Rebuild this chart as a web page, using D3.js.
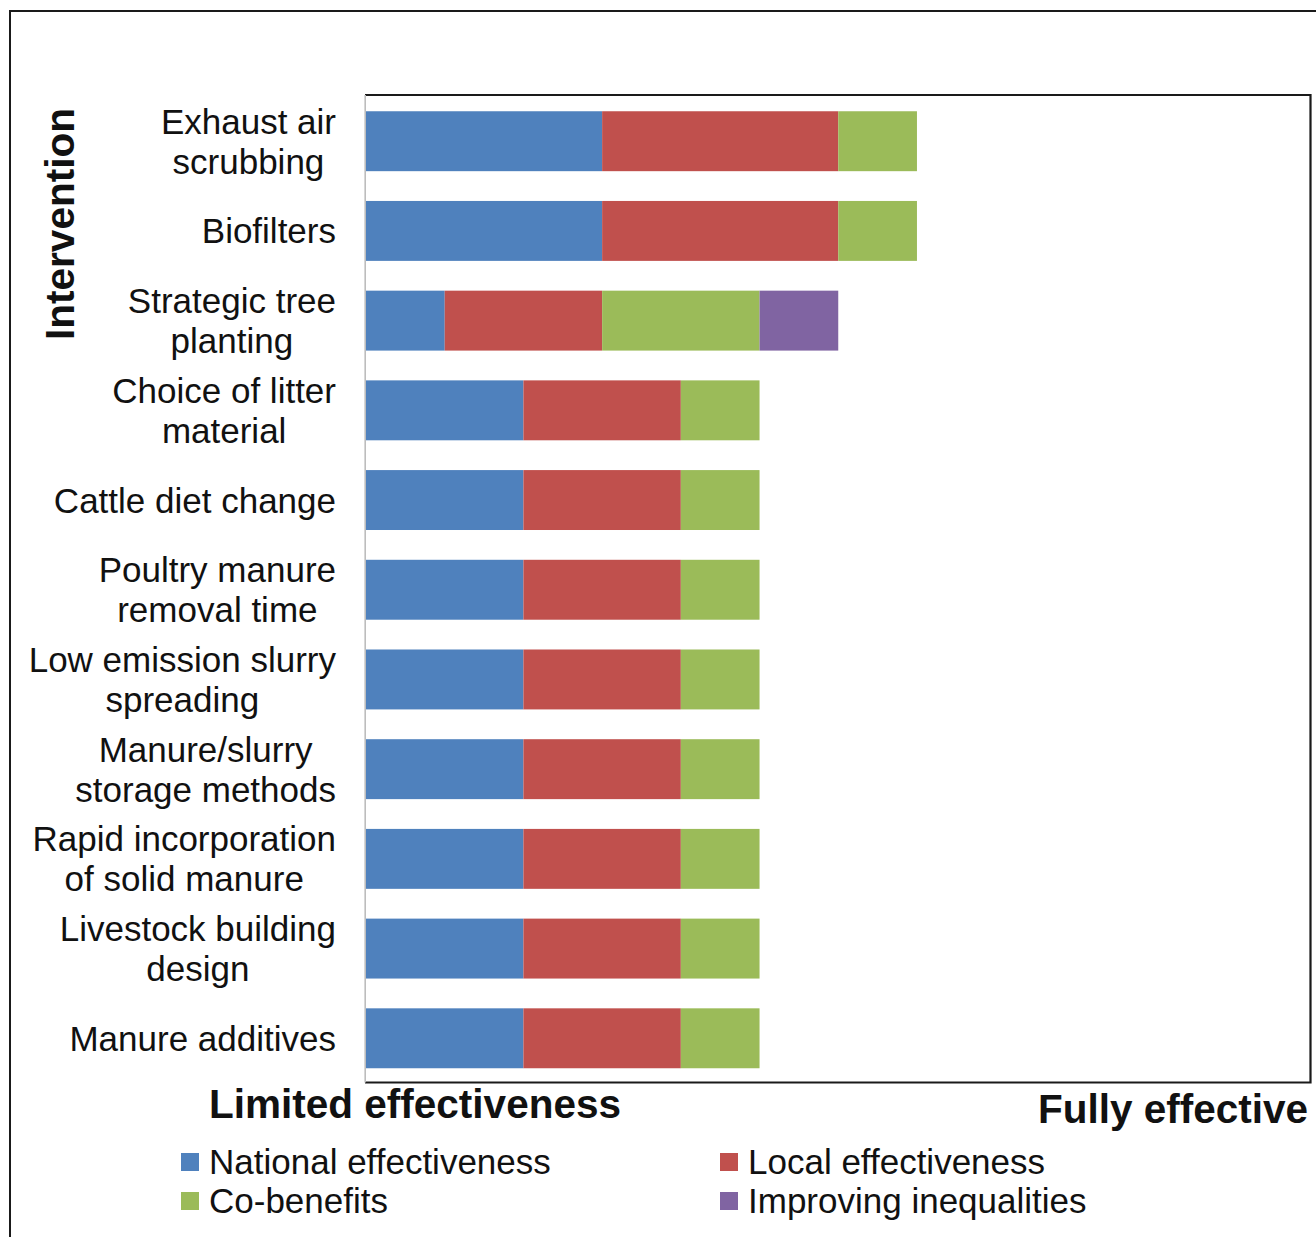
<!DOCTYPE html>
<html>
<head>
<meta charset="utf-8">
<script src="https://cdn.jsdelivr.net/npm/d3@7"></script>
<style>
  html, body { margin: 0; padding: 0; background: #fff; }
  svg { display: block; }
  text { font-family: "Liberation Sans", Arial, sans-serif; fill: #111; }
</style>
</head>
<body>
<svg id="chart" width="1316" height="1237"></svg>
<script>
// ---- data ----
const categories = [
  "Exhaust air\nscrubbing",
  "Biofilters",
  "Strategic tree\nplanting",
  "Choice of litter\nmaterial",
  "Cattle diet change",
  "Poultry manure\nremoval time",
  "Low emission slurry\nspreading",
  "Manure/slurry\nstorage methods",
  "Rapid incorporation\nof solid manure",
  "Livestock building\ndesign",
  "Manure additives"
];
const seriesNames = ["National effectiveness", "Local effectiveness", "Co-benefits", "Improving inequalities"];
const nationalEffectiveness = [3, 3, 1, 2, 2, 2, 2, 2, 2, 2, 2];
const localEffectiveness    = [3, 3, 2, 2, 2, 2, 2, 2, 2, 2, 2];
const coBenefits            = [1, 1, 2, 1, 1, 1, 1, 1, 1, 1, 1];
const improvingInequalities = [0, 0, 1, 0, 0, 0, 0, 0, 0, 0, 0];
const seriesColors = ["#4F81BD", "#C0504D", "#9BBB59", "#8064A2"];
const xDomain = [0, 12];
const axisEndLabels = ["Limited effectiveness", "Fully effective"];
const yTitle = "Intervention";

// ---- build table ----
const seriesValues = [nationalEffectiveness, localEffectiveness, coBenefits, improvingInequalities];
const table = categories.map((c, i) => {
  const row = { category: c };
  seriesNames.forEach((s, k) => row[s] = seriesValues[k][i]);
  return row;
});
const stacked = d3.stack().keys(seriesNames)(table);

const svg = d3.select("#chart");

// outer frame
svg.append("rect")
  .attr("x", 10).attr("y", 11).attr("width", 1340).attr("height", 1260)
  .attr("fill", "none").attr("stroke", "#1a1a1a").attr("stroke-width", 2);

const plot = { left: 366, right: 1310.5, top: 95, bottom: 1082.5 };

const x = d3.scaleLinear().domain(xDomain).range([plot.left, plot.right]);
const y = d3.scaleBand().domain(categories)
  .range([96, 1083.5])
  .paddingInner(0.332).paddingOuter(0.17);

const color = d3.scaleOrdinal().domain(seriesNames).range(seriesColors);

// bars
svg.append("g").selectAll("g")
  .data(stacked)
  .join("g")
  .attr("fill", d => color(d.key))
  .selectAll("rect")
  .data(d => d.filter(p => p[1] - p[0] > 0))
  .join("rect")
  .attr("x", d => x(d[0]))
  .attr("y", d => y(d.data.category))
  .attr("width", d => x(d[1]) - x(d[0]))
  .attr("height", y.bandwidth());

// plot frame: top/right/bottom dark, left gray axis line
svg.append("path")
  .attr("d", `M${plot.left - 1},${plot.top} H${plot.right} V${plot.bottom} H${plot.left - 1}`)
  .attr("fill", "none").attr("stroke", "#1a1a1a").attr("stroke-width", 2.2);
const yAxis = d3.axisLeft(y).tickSize(0).tickFormat("");
const yAxisG = svg.append("g").attr("transform", `translate(${plot.left - 0.8},0)`).call(yAxis);
yAxisG.select(".domain").attr("stroke", "#bdbdbd").attr("stroke-width", 1.6)
  .attr("d", `M0,${plot.top}V${plot.bottom}`);

// category labels (lines centred in a block, block right-aligned)
const labelRight = 336;
const labelSize = 35, lineH = 40;
const lblG = svg.append("g");
categories.forEach(c => {
  const lines = c.split("\n");
  const cy = y(c) + y.bandwidth() / 2;
  const t = lblG.append("text").attr("font-size", labelSize).attr("text-anchor", "middle");
  const tsp = lines.map((ln, i) => t.append("tspan")
    .attr("y", cy + 12.5 - (lines.length - 1) * lineH / 2 + i * lineH)
    .text(ln));
  const maxW = d3.max(tsp, s => s.node().getComputedTextLength());
  tsp.forEach(s => s.attr("x", labelRight - maxW / 2));
});

// y title
svg.append("text")
  .attr("transform", `translate(74,224) rotate(-90)`)
  .attr("text-anchor", "middle")
  .attr("font-size", 40.5).attr("font-weight", "bold")
  .text(yTitle);

// x end labels
svg.append("text").attr("x", 209).attr("y", 1118)
  .attr("font-size", 40.5).attr("font-weight", "bold")
  .attr("textLength", 412).attr("lengthAdjust", "spacingAndGlyphs")
  .text(axisEndLabels[0]);
svg.append("text").attr("x", 1308).attr("y", 1123)
  .attr("text-anchor", "end")
  .attr("font-size", 40.5).attr("font-weight", "bold")
  .text(axisEndLabels[1]);

// legend
const legendPos = [[181, 1153], [720, 1153], [181, 1192], [720, 1192]];
const lg = svg.append("g");
seriesNames.forEach((s, i) => {
  const [lx, ly] = legendPos[i];
  lg.append("rect").attr("x", lx).attr("y", ly).attr("width", 18).attr("height", 18).attr("fill", color(s));
  lg.append("text").attr("x", lx + 28).attr("y", ly + 21)
    .attr("font-size", 35).text(s);
});
</script>
</body>
</html>
